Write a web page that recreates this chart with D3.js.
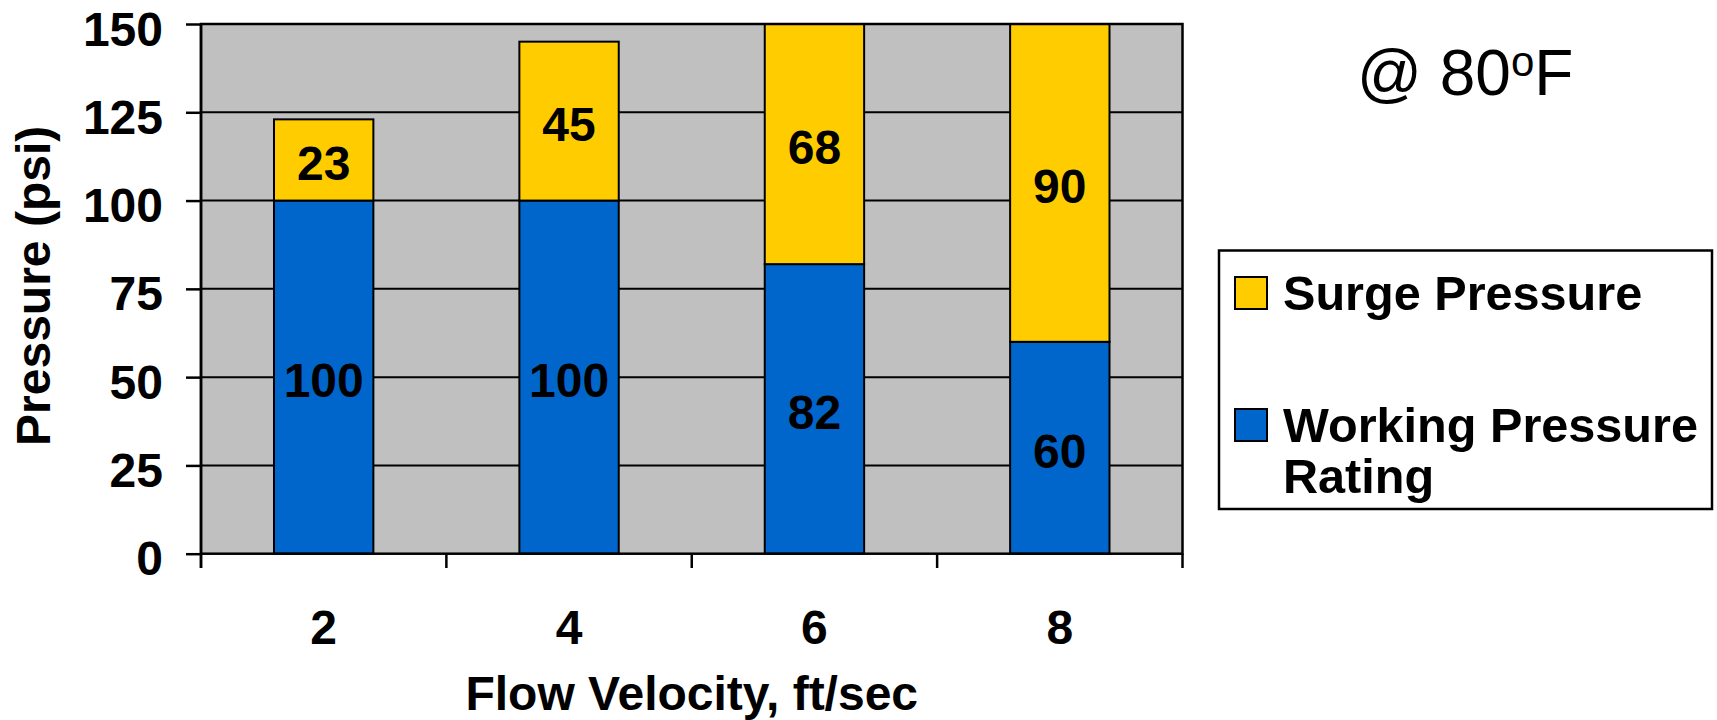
<!DOCTYPE html>
<html>
<head>
<meta charset="utf-8">
<script src="https://cdn.jsdelivr.net/npm/d3@7"></script>
<style>
  html, body { margin: 0; padding: 0; background: #fff; }
  svg { display: block; }
  text { font-family: "Liberation Sans", Arial, Helvetica, sans-serif; fill: #000; }
</style>
</head>
<body>
<svg id="chart" width="1717" height="720"></svg>
<script>
// Flow velocity categories (ft/sec)
const velocities = ["2", "4", "6", "8"];
// Working pressure rating (psi) at each velocity
const workingPressure = [100, 100, 82, 60];
// Surge pressure (psi) stacked on top
const surgePressure = [23, 45, 68, 90];
// Y axis ticks
const yTicks = [0, 25, 50, 75, 100, 125, 150];
const seriesNames = ["Surge Pressure", "Working Pressure Rating"];
const seriesColors = { work: "#0066CC", surge: "#FFCC00" };

const svg = d3.select("#chart");
const plot = { left: 201, right: 1182.5, top: 24, bottom: 553.7 };

const x = d3.scaleBand().domain(velocities).range([plot.left, plot.right]).padding(0);
const y = d3.scaleLinear().domain([0, 150]).range([plot.bottom, plot.top]);

const barW = x.bandwidth() * 0.405;
const FS = 48;

// Plot background
svg.append("rect")
  .attr("x", plot.left).attr("y", plot.top)
  .attr("width", plot.right - plot.left).attr("height", plot.bottom - plot.top)
  .attr("fill", "#C0C0C0");

// Horizontal gridlines
svg.append("g").selectAll("line")
  .data(yTicks.filter(d => d > 0 && d < 150))
  .join("line")
  .attr("x1", plot.left).attr("x2", plot.right)
  .attr("y1", d => y(d)).attr("y2", d => y(d))
  .attr("stroke", "#000").attr("stroke-width", 2);

// Stacked data
const rows = velocities.map((v, i) => ({ v, work: workingPressure[i], surge: surgePressure[i] }));
const stack = d3.stack().keys(["work", "surge"])(rows);

const barsG = svg.append("g");
stack.forEach(layer => {
  barsG.append("g").selectAll("rect")
    .data(layer)
    .join("rect")
    .attr("x", d => x(d.data.v) + (x.bandwidth() - barW) / 2)
    .attr("y", d => y(d[1]))
    .attr("width", barW)
    .attr("height", d => y(d[0]) - y(d[1]))
    .attr("fill", seriesColors[layer.key])
    .attr("stroke", "#000").attr("stroke-width", 2);
});

// Value labels centred in each segment
stack.forEach(layer => {
  barsG.append("g").selectAll("text")
    .data(layer)
    .join("text")
    .attr("x", d => x(d.data.v) + x.bandwidth() / 2)
    .attr("y", d => (y(d[0]) + y(d[1])) / 2 + FS * 0.358 + 3)
    .attr("text-anchor", "middle")
    .attr("font-size", FS).attr("font-weight", "bold")
    .text(d => d.data[layer.key]);
});

// Plot border
svg.append("rect")
  .attr("x", plot.left).attr("y", plot.top)
  .attr("width", plot.right - plot.left).attr("height", plot.bottom - plot.top)
  .attr("fill", "none").attr("stroke", "#000").attr("stroke-width", 2.5);

// Y axis
const yAxis = svg.append("g")
  .attr("transform", `translate(${plot.left},0)`)
  .call(d3.axisLeft(y).tickValues(yTicks).tickSize(15).tickPadding(23).tickSizeOuter(0));
yAxis.select(".domain").attr("d", `M0,${plot.top}V${plot.bottom + 14.3}`).attr("stroke-width", 2.5);
yAxis.selectAll(".tick line").attr("stroke-width", 2.5);
yAxis.selectAll(".tick text")
  .attr("font-size", FS).attr("font-weight", "bold")
  .attr("font-family", '"Liberation Sans", Arial, sans-serif')
  .attr("dy", "0.44em");

// X axis: labels at band centres, ticks at band boundaries
const xAxis = svg.append("g")
  .attr("transform", `translate(0,${plot.bottom})`)
  .call(d3.axisBottom(x).tickSize(0).tickPadding(56).tickSizeOuter(0));
xAxis.select(".domain").remove();
xAxis.selectAll(".tick text")
  .attr("font-size", FS).attr("font-weight", "bold")
  .attr("font-family", '"Liberation Sans", Arial, sans-serif');
const bounds = velocities.map(v => x(v)).concat([plot.right]);
svg.append("g").selectAll("line")
  .data(bounds)
  .join("line")
  .attr("x1", d => d).attr("x2", d => d)
  .attr("y1", plot.bottom).attr("y2", plot.bottom + 14.3)
  .attr("stroke", "#000").attr("stroke-width", 2.5);

// Axis titles
svg.append("text")
  .attr("x", (plot.left + plot.right) / 2).attr("y", 710)
  .attr("text-anchor", "middle")
  .attr("font-size", FS).attr("font-weight", "bold")
  .text("Flow Velocity, ft/sec");

svg.append("text")
  .attr("transform", `translate(50,${(plot.top + plot.bottom) / 2 - 3}) rotate(-90)`)
  .attr("text-anchor", "middle")
  .attr("font-size", FS).attr("font-weight", "bold")
  .text("Pressure (psi)");

// Temperature note
const note = svg.append("text")
  .attr("x", 1357).attr("y", 95)
  .attr("font-size", 64);
note.append("tspan").text("@ 80");
note.append("tspan").attr("font-size", 42).attr("dy", -19).text("o");
note.append("tspan").attr("dy", 19).text("F");

// Legend
const legend = svg.append("g");
legend.append("rect")
  .attr("x", 1219).attr("y", 250.5).attr("width", 493).attr("height", 258.5)
  .attr("fill", "#fff").attr("stroke", "#000").attr("stroke-width", 2.5);

const LFS = 48.6;
const legendItems = [
  { name: seriesNames[0], color: seriesColors.surge, sy: 277, lines: ["Surge Pressure"], base: 310 },
  { name: seriesNames[1], color: seriesColors.work, sy: 409, lines: ["Working Pressure", "Rating"], base: 442 }
];
legendItems.forEach(item => {
  legend.append("rect")
    .attr("x", 1235).attr("y", item.sy).attr("width", 32).attr("height", 32)
    .attr("fill", item.color).attr("stroke", "#000").attr("stroke-width", 2);
  const t = legend.append("text")
    .attr("x", 1283).attr("y", item.base)
    .attr("font-size", LFS).attr("font-weight", "bold");
  item.lines.forEach((ln, i) => {
    t.append("tspan").attr("x", 1283).attr("dy", i === 0 ? 0 : 51).text(ln);
  });
});
</script>
</body>
</html>
